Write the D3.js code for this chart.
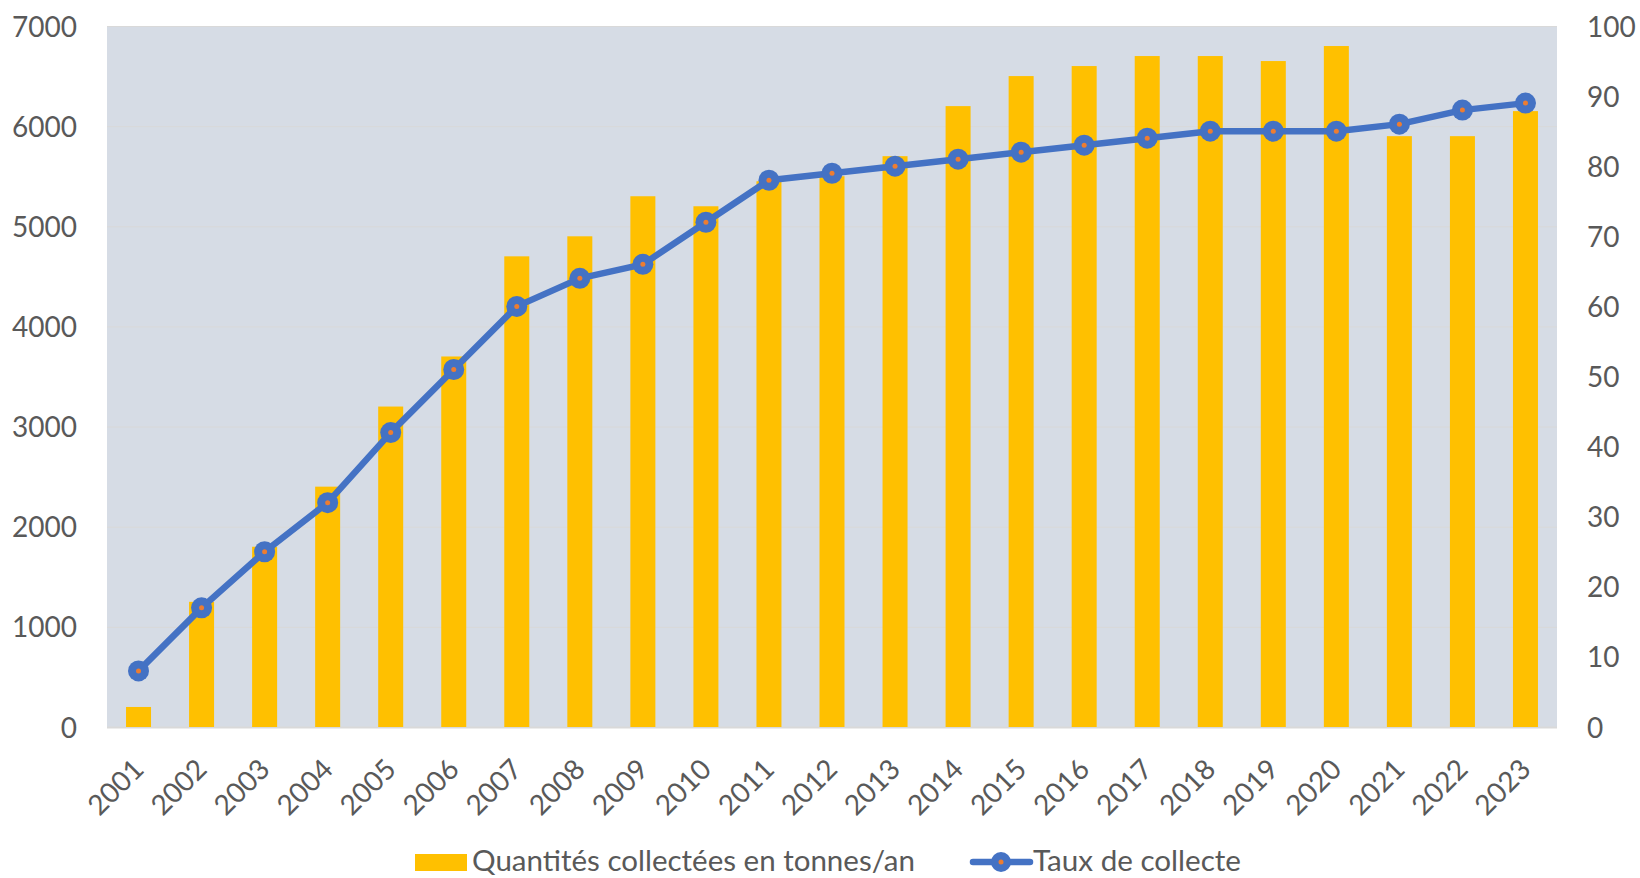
<!DOCTYPE html>
<html>
<head>
<meta charset="utf-8">
<script src="https://cdn.jsdelivr.net/npm/d3@7"></script>
<style>
  html, body { margin: 0; padding: 0; background: #fff; }
  svg { display: block; }
  text { font-family: Lato, "Open Sans", sans-serif; fill: #595959; }
</style>
</head>
<body>
<svg id="chart" width="1640" height="878"></svg>
<script>
const years = ["2001","2002","2003","2004","2005","2006","2007","2008","2009","2010","2011","2012","2013","2014","2015","2016","2017","2018","2019","2020","2021","2022","2023"];
const quantities = [200,1250,1800,2400,3200,3700,4700,4900,5300,5200,5450,5500,5700,6200,6500,6600,6700,6700,6650,6800,5900,5900,6150];
const rates = [8,17,25,32,42,51,60,64,66,72,78,79,80,81,82,83,84,85,85,85,86,88,89];
const leftTicks = [0,1000,2000,3000,4000,5000,6000,7000];
const rightTicks = [0,10,20,30,40,50,60,70,80,90,100];
const legendLabels = ["Quantités collectées en tonnes/an", "Taux de collecte"];

const svg = d3.select("#chart");
const m = { left: 107, right: 1557, top: 26, bottom: 727 };

const xc = d3.scaleBand().domain(years).range([m.left, m.right]);
const yL = d3.scaleLinear().domain([0, 7000]).range([m.bottom, m.top]);
const yR = d3.scaleLinear().domain([0, 100]).range([m.bottom, m.top]);

// plot background
svg.append("rect").attr("x", m.left).attr("y", m.top)
  .attr("width", m.right - m.left).attr("height", m.bottom - m.top)
  .attr("fill", "#D6DCE5");

// gridlines
svg.append("g").selectAll("line").data(leftTicks).join("line")
  .attr("x1", m.left).attr("x2", m.right)
  .attr("y1", d => yL(d) + 0.5).attr("y2", d => yL(d) + 0.5)
  .attr("stroke", "#D9D9D9").attr("stroke-width", d => d === 0 ? 2 : 1);

// bars
svg.append("g").selectAll("rect").data(quantities).join("rect")
  .attr("x", (d, i) => xc(years[i]) + xc.bandwidth() / 2 - 12.5)
  .attr("width", 25)
  .attr("y", d => yL(d))
  .attr("height", d => yL(0) - yL(d))
  .attr("fill", "#FFC000");

// left axis
const axL = d3.axisLeft(yL).tickValues(leftTicks).tickSize(0).tickPadding(0).tickFormat(d3.format("d"));
const gL = svg.append("g").attr("transform", `translate(77,0)`).call(axL);
gL.select(".domain").remove();
gL.selectAll("text").attr("font-size", 28).attr("fill", "#595959")
  .style("font-family", "Lato, sans-serif").attr("dy", "0.36em");

// right axis
const axR = d3.axisRight(yR).tickValues(rightTicks).tickSize(0).tickPadding(0);
const gR = svg.append("g").attr("transform", `translate(1587,0)`).call(axR);
gR.select(".domain").remove();
gR.selectAll("text").attr("font-size", 28).attr("fill", "#595959")
  .style("font-family", "Lato, sans-serif").attr("dy", "0.36em");

// x axis labels
const axB = d3.axisBottom(xc).tickSize(0).tickPadding(0);
const gB = svg.append("g").call(axB);
gB.select(".domain").remove();
gB.selectAll(".tick").attr("transform", d => `translate(${xc(d) + xc.bandwidth() / 2 + 7},771)`);
gB.selectAll("text").attr("font-size", 28).attr("fill", "#595959")
  .style("font-family", "Lato, sans-serif")
  .attr("y", 0).attr("dy", 0).attr("text-anchor", "end")
  .attr("transform", "rotate(-45)");

// line
const line = d3.line().x((d, i) => xc(years[i]) + xc.bandwidth() / 2).y(d => yR(d));
svg.append("path").datum(rates).attr("d", line)
  .attr("fill", "none").attr("stroke", "#4472C4").attr("stroke-width", 6.5)
  .attr("stroke-linejoin", "round").attr("stroke-linecap", "round");

const mk = svg.append("g").selectAll("g").data(rates).join("g")
  .attr("transform", (d, i) => `translate(${xc(years[i]) + xc.bandwidth() / 2},${yR(d)})`);
mk.append("circle").attr("r", 10.5).attr("fill", "#4472C4");
mk.append("circle").attr("r", 2.5).attr("fill", "#ED7D31");

// legend
const lg = svg.append("g");
lg.append("rect").attr("x", 415).attr("y", 854).attr("width", 52).attr("height", 17).attr("fill", "#FFC000");
lg.append("text").attr("x", 472).attr("y", 871).attr("font-size", 28)
  .attr("textLength", 443).attr("lengthAdjust", "spacingAndGlyphs").text(legendLabels[0]);
lg.append("line").attr("x1", 973).attr("x2", 1030).attr("y1", 862).attr("y2", 862)
  .attr("stroke", "#4472C4").attr("stroke-width", 6.5).attr("stroke-linecap", "round");
lg.append("circle").attr("cx", 1001).attr("cy", 862).attr("r", 10).attr("fill", "#4472C4");
lg.append("circle").attr("cx", 1001).attr("cy", 862).attr("r", 2.5).attr("fill", "#ED7D31");
lg.append("text").attr("x", 1033).attr("y", 871).attr("font-size", 28)
  .attr("textLength", 208).attr("lengthAdjust", "spacingAndGlyphs").text(legendLabels[1]);
</script>
</body>
</html>
